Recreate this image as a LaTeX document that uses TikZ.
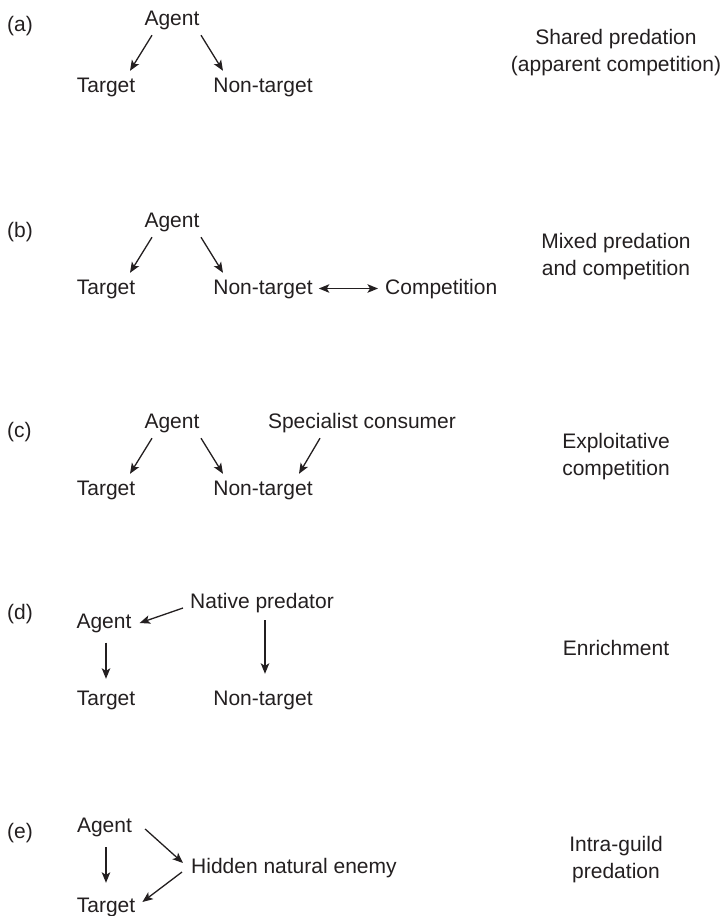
\documentclass[tikz,border=0pt]{standalone}
\usepackage{fontspec}
\setmainfont{Liberation Sans}
\usetikzlibrary{arrows.meta}
\definecolor{ink}{HTML}{231F20}
\tikzset{
  txt/.style={inner sep=0pt, text height=15pt, text depth=4.5pt, anchor=base,
              font=\fontsize{21}{27}\selectfont, text=ink},
  tag/.style={txt, anchor=base west},
  caption/.style={inner sep=0pt, anchor=north, align=center,
                  font=\fontsize{21}{27}\selectfont, text=ink},
  tip/.style={Stealth[length=10.5pt, width=8.5pt, inset=2.5pt]},
  arr/.style={draw=ink, line width=1.3pt, -{Stealth[length=10.5pt, width=8.5pt, inset=2.5pt]}},
  dbl/.style={draw=ink, line width=1.3pt,
              {Stealth[length=10.5pt, width=8.5pt, inset=2.5pt]}-{Stealth[length=10.5pt, width=8.5pt, inset=2.5pt]}}
}
\begin{document}
\begin{tikzpicture}[x=1pt, y=-1pt]
\useasboundingbox (0,0) rectangle (724,916);

% ---------- (a) shared predation ----------
\node[tag] (la) at (7,31) {(a)};
\node[txt] (aA) at (172,25) {Agent};
\node[txt] (aT) at (106,92) {Target};
\node[txt] (aN) at (263,92) {Non-target};
\node[caption] (ca) at (616,29) {Shared predation\\(apparent competition)};
\draw[arr] ([shift={(-20,5.5)}]aA.south) -- ([shift={(24,-6)}]aT.north);
\draw[arr] ([shift={(29,5.5)}]aA.south) -- ([shift={(-40,-6)}]aN.north);

% ---------- (b) mixed predation and competition ----------
\node[tag] (lb) at (7,237) {(b)};
\node[txt] (bA) at (172,227) {Agent};
\node[txt] (bT) at (106,294) {Target};
\node[txt] (bN) at (263,294) {Non-target};
\node[txt, anchor=base west] (bC) at (385,294) {Competition};
\node[caption] (cb) at (616,233) {Mixed predation\\and competition};
\draw[arr] ([shift={(-20,5.5)}]bA.south) -- ([shift={(24,-6)}]bT.north);
\draw[arr] ([shift={(29,5.5)}]bA.south) -- ([shift={(-40,-6)}]bN.north);
\draw[dbl] ([shift={(6,-5.5)}]bN.base east) -- ([shift={(-7,-5.5)}]bC.base west);

% ---------- (c) exploitative competition ----------
\node[tag] (lc) at (7,437) {(c)};
\node[txt] (cA) at (172,428) {Agent};
\node[txt] (cS) at (362,428) {Specialist consumer};
\node[txt] (cT) at (106,495) {Target};
\node[txt] (cN) at (263,495) {Non-target};
\node[caption] (cc) at (616,433) {Exploitative\\competition};
\draw[arr] ([shift={(-20,5.5)}]cA.south) -- ([shift={(24,-6)}]cT.north);
\draw[arr] ([shift={(29,5.5)}]cA.south) -- ([shift={(-40,-6)}]cN.north);
\draw[arr] ([shift={(-42,5.5)}]cS.south) -- ([shift={(36,-6)}]cN.north);

% ---------- (d) enrichment ----------
\node[tag] (ld) at (7,619) {(d)};
\node[txt] (dA) at (104,628) {Agent};
\node[txt] (dP) at (262,608) {Native predator};
\node[txt] (dT) at (106,705) {Target};
\node[txt] (dN) at (263,705) {Non-target};
\node[caption] (cd) at (616,640) {Enrichment};
\draw[arr] ([shift={(-7,0)}]dP.base west) -- ([shift={(8,-5)}]dA.base east);
\draw[arr] ([shift={(2,10)}]dA.south) -- ([shift={(0,-11)}]dT.north);
\draw[arr] ([shift={(3,7.5)}]dP.south) -- ([shift={(2,-16)}]dN.north);

% ---------- (e) intra-guild predation ----------
\node[tag] (le) at (7,838) {(e)};
\node[txt] (eA) at (104.5,832) {Agent};
\node[txt, anchor=base west] (eH) at (191,873) {Hidden natural enemy};
\node[txt] (eT) at (106,912) {Target};
\node[caption] (ce) at (616,836) {Intra-guild\\predation};
\draw[arr] ([shift={(1.5,10.5)}]eA.south) -- ([shift={(0,-14)}]eT.north);
\draw[arr] ([shift={(13,-3)}]eA.base east) -- ([shift={(-8,-10)}]eH.base west);
\draw[arr] ([shift={(-9,-1)}]eH.base west) -- ([shift={(7,-10)}]eT.base east);
\end{tikzpicture}
\end{document}
